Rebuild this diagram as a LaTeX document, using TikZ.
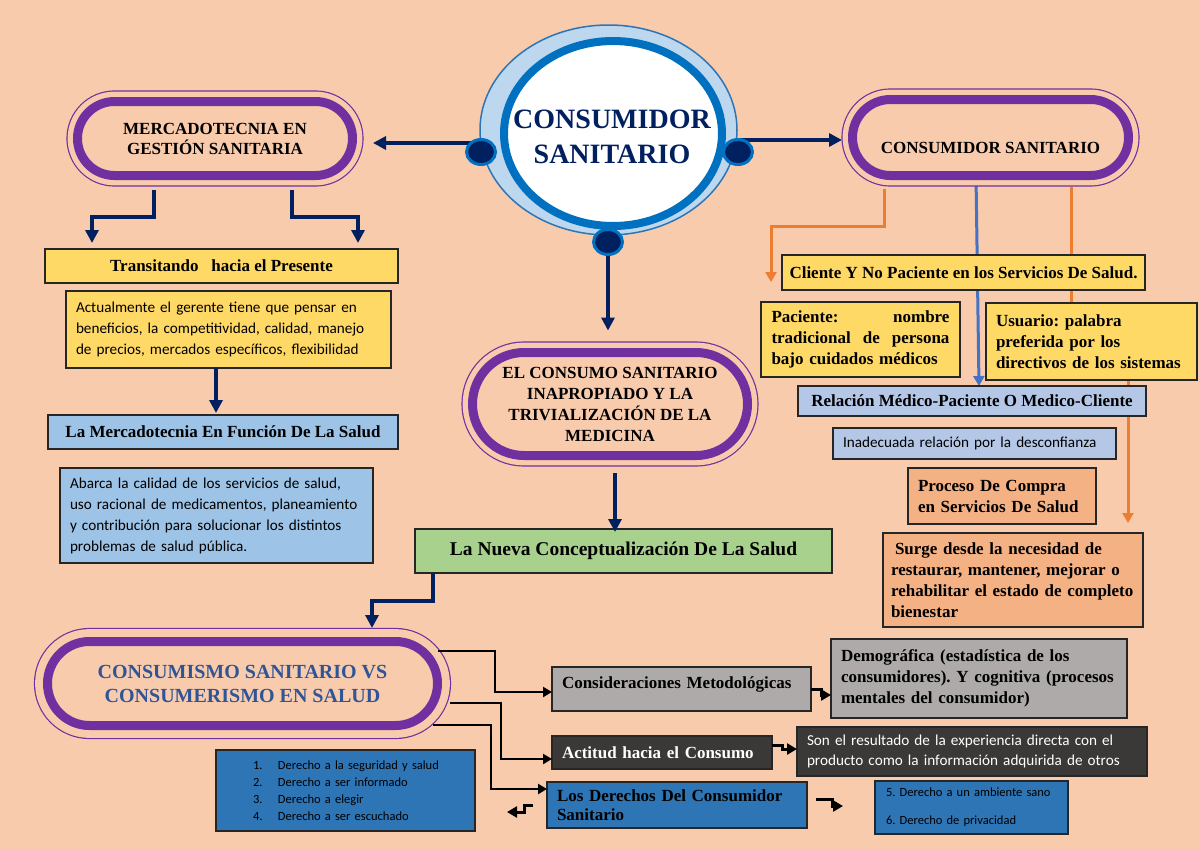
\documentclass[tikz,border=0pt]{standalone}
\usepackage{fontspec}
\setmainfont{Liberation Serif}
\newfontfamily\calib{Carlito}
\usepackage{tikz}
\usetikzlibrary{positioning, arrows.meta, shapes.geometric, shapes.misc}
\definecolor{bgpeach}{HTML}{F8CBAD}
\definecolor{boxyellow}{HTML}{FFD966}
\definecolor{boxsky}{HTML}{9DC3E6}
\definecolor{boxpale}{HTML}{B4C7E7}
\definecolor{boxgreen}{HTML}{A9D18E}
\definecolor{boxorange}{HTML}{F4B183}
\definecolor{boxgray}{HTML}{AEAAAA}
\definecolor{boxdark}{HTML}{3B3838}
\definecolor{boxblue}{HTML}{2E75B6}
\definecolor{stpurple}{HTML}{7030A0}
\definecolor{navy}{HTML}{002060}
\definecolor{ringblue}{HTML}{2E75B6}
\definecolor{ringlight}{HTML}{BDD7EE}
\definecolor{innerblue}{HTML}{0070C0}
\definecolor{lineorange}{HTML}{ED7D31}
\definecolor{lineblue}{HTML}{4472C4}
\definecolor{textblue}{HTML}{2F5597}
\pgfdeclarelayer{paper}
\pgfdeclarelayer{links}
\pgfsetlayers{paper,links,main}
\tikzset{>={Triangle[length=13pt,width=13pt]}, node distance=2cm}

\begin{document}
\frenchspacing
\begin{tikzpicture}[x=1pt, y=-1pt,
  box/.style={rectangle, draw=black!85, line width=1.6pt, inner sep=0pt, outer sep=0pt, font=\bfseries\fontsize{17}{21}\selectfont, align=center},
  box_left/.style={box, align=left, inner xsep=10pt},
  note/.style={box, align=left, inner xsep=10pt, font=\calib\fontsize{15.2}{21}\selectfont},
  stadium/.style={rounded rectangle, inner sep=0pt, outer sep=0pt, draw=stpurple, line width=9pt, fill=bgpeach,
    preaction={draw=stpurple, line width=2*#1pt+1.2pt}, preaction={draw=bgpeach, line width=2*#1pt-1.2pt},
    font=\bfseries\fontsize{17}{20}\selectfont, align=center},
  stadium/.default=10.5,
  ring_outer/.style={ellipse, draw=ringblue, line width=1.5pt, fill=ringlight, inner sep=0pt, minimum width=257pt, minimum height=210pt},
  ring_inner/.style={ellipse, draw=innerblue, line width=8pt, fill=white, inner sep=0pt, minimum width=218pt, minimum height=185pt},
  title/.style={align=center, inner sep=0pt, text=navy, font=\bfseries\fontsize{28}{35}\selectfont},
  dot/.style={ellipse, draw=innerblue, line width=3pt, fill=navy, inner sep=0pt, minimum width=29pt, minimum height=25pt},
  navyarr/.style={draw=navy, line width=3.5pt, ->},
  orangearr/.style={draw=lineorange, line width=3pt, -{Triangle[length=10pt,width=11pt]}},
  bluearr/.style={draw=lineblue, line width=3pt, -{Triangle[length=10pt,width=11pt]}},
  blkarr/.style={draw=black, line width=2.8pt, -{Triangle[length=9pt,width=10pt]}},
  step_arr/.style={draw=black, line width=3pt, -{Triangle[length=10pt,width=11pt]}}]

  \begin{pgfonlayer}{paper}
    \fill[bgpeach] (0,0) rectangle (1200,849);
  \end{pgfonlayer}
  \useasboundingbox (0,0) rectangle (1200,849);

  % centre
  \node[ring_outer] (ring) at (608.5,130) {};
  \node[ring_inner] (cons) at (613,133.5) {};
  \node[title] (title) at (612,137) {CONSUMIDOR\\SANITARIO};
  \node[dot] (dotL) at (481,152) {};
  \node[dot] (dotR) at (738,152) {};
  \node[dot] (dotB) at (608,242) {};

  % left branch
  \node[stadium, minimum width=275pt, minimum height=74pt] (merc) at (215,138.5) {MERCADOTECNIA EN\\GESTIÓN SANITARIA};
  \node[box, fill=boxyellow, minimum width=353pt, minimum height=34pt] (trans) at (221.5,266) {Transitando\ \ \ hacia el Presente};
  \node[note, fill=boxyellow, text width=305pt, minimum height=77pt] (actual) at (228.5,329.5) {Actualmente el gerente tiene que pensar en\\beneficios, la competitividad, calidad, manejo\\de precios, mercados específicos, flexibilidad};
  \node[box, fill=boxsky, minimum width=350pt, minimum height=34pt] (merf) at (223,432) {La Mercadotecnia En Función De La Salud};
  \node[note, fill=boxsky, text width=293pt, minimum height=95pt] (abarca) at (216.5,515.5) {Abarca la calidad de los servicios de salud,\\uso racional de medicamentos, planeamiento\\y contribución para solucionar los distintos\\problemas de salud pública.};

  % middle branch
  \node[stadium, minimum width=275pt, minimum height=103pt, font=\bfseries\fontsize{17}{21}\selectfont] (ecs) at (610,404) {EL CONSUMO SANITARIO\\INAPROPIADO Y LA\\TRIVIALIZACIÓN DE LA\\MEDICINA};
  \node[box, fill=boxgreen, minimum width=417pt, minimum height=44pt, font=\bfseries\fontsize{19.5}{23}\selectfont] (nueva) at (623.5,551) {La Nueva Conceptualización De La Salud};
  \node[stadium=13, minimum width=390pt, minimum height=84pt, text=textblue, font=\bfseries\fontsize{20}{24}\selectfont] (cvs) at (242.5,683.5) {CONSUMISMO SANITARIO VS\\CONSUMERISMO EN SALUD};

  % right branch
  \node[stadium, minimum width=276pt, minimum height=76pt] (cs) at (990.5,137.5) {\raisebox{-10pt}[\height][\depth]{CONSUMIDOR SANITARIO}};
  \node[box, fill=boxyellow, minimum width=363pt, minimum height=35pt] (cliente) at (963.5,272.5) {Cliente Y No Paciente en los Servicios De Salud.};
  \node[box_left, fill=boxyellow, text width=178pt, inner xsep=10.5pt, minimum height=75pt] (pac) at (860.5,339.5) {Paciente:\hfill nombre\\tradicional\hfill de\hfill persona\\bajo cuidados médicos};
  \node[box_left, fill=boxyellow, text width=191pt, minimum height=77pt] (usu) at (1091.5,341.5) {Usuario: palabra\\preferida por los\\directivos de los sistemas};
  \node[box, fill=boxpale, minimum width=348pt, minimum height=30pt] (rel) at (972,401) {Relación Médico-Paciente O Medico-Cliente};
  \node[note, fill=boxpale, text width=263pt, minimum height=31pt] (inad) at (974.5,443.5) {Inadecuada relación por la desconfianza};
  \node[box_left, fill=boxorange, text width=168pt, minimum height=56pt] (proc) at (1002,496) {Proceso De Compra\\en Servicios De Salud};
  \node[box_left, fill=boxorange, text width=244pt, inner xsep=8pt, minimum height=94pt] (surge) at (1013,580) {\hspace{4pt}Surge desde la necesidad de\\restaurar, mantener, mejorar o\\rehabilitar el estado de completo\\bienestar};

  % bottom row
  \node[box_left, fill=boxgray, text width=239pt, minimum height=44pt] (cmet) at (681.5,689) {\raisebox{5pt}[\height][\depth]{Consideraciones Metodológicas}};
  \node[box_left, fill=boxgray, text width=276pt, minimum height=79pt] (demo) at (979,678.5) {Demográfica (estadística de los\\consumidores). Y cognitiva (procesos\\mentales del consumidor)};
  \node[box_left, fill=boxdark, text=white, text width=200pt, minimum height=33pt] (actit) at (662,752.5) {Actitud hacia el Consumo};
  \node[note, fill=boxdark, text=white, text width=330pt, minimum height=49pt, font=\calib\fontsize{15.2}{20}\selectfont] (sonel) at (972,751.5) {Son el resultado de la experiencia directa con el\\producto como la información adquirida de otros};
  \node[box_left, fill=boxblue, text width=240pt, minimum height=46pt, font=\bfseries\fontsize{17}{19}\selectfont] (dere) at (677,805) {Los Derechos Del Consumidor\\Sanitario};
  \node[note, fill=boxblue, text width=171pt, inner xsep=11pt, minimum height=53pt, font=\calib\fontsize{12.5}{14}\selectfont] (dere2) at (971.5,807.5) {5. Derecho a un ambiente sano\\[14pt]6. Derecho de privacidad};
  \node[note, fill=boxblue, text width=185pt, inner xsep=37pt, minimum height=81pt, font=\calib\fontsize{12.5}{17}\selectfont] (lst) at (345.5,790.5) {\mbox{\makebox[25pt][l]{1.}Derecho a la seguridad y salud}\\\mbox{\makebox[25pt][l]{2.}Derecho a ser informado}\\\mbox{\makebox[25pt][l]{3.}Derecho a elegir}\\\mbox{\makebox[25pt][l]{4.}Derecho a ser escuchado}};
  \coordinate (lst_end) at (507,812);
  \coordinate (dere_end) at (843,806);

  \begin{pgfonlayer}{links}
    \draw[navyarr, shorten >=20.5pt] ([yshift=9pt]dotL.center) -- ([yshift=9pt]dotL.center -| merc.east);
    \draw[navyarr, shorten >=10.5pt] ([yshift=12pt]dotR.center) -- ([yshift=12pt]dotR.center -| cs.west);
    \draw[navyarr, shorten >=22pt] (dotB.center) -- (dotB.center |- ecs.north);
    \draw[orangearr, shorten <=13pt] ([xshift=-106.5pt]cs.south) -- ++(0,51) -| ([xshift=-11pt,yshift=-9.5pt]cliente.west);
    \draw[bluearr, shorten <=10pt] ([xshift=-14.5pt]cs.south) -- ([xshift=7pt]rel.north);
    \draw[orangearr, shorten <=11.5pt] ([xshift=80.5pt]cs.south) -- ++(0,165) -| ([xshift=115pt,yshift=10pt]surge.north);
  \end{pgfonlayer}

  \draw[navyarr, shorten <=14.5pt] ([xshift=-61pt]merc.south) -- ++(0,41.5) -| ([xshift=-129.5pt,yshift=6pt]trans.north);
  \draw[navyarr, shorten <=14.5pt] ([xshift=77pt]merc.south) -- ++(0,41.5) -| ([xshift=136.5pt,yshift=6pt]trans.north);
  \draw[navyarr, shorten >=2pt] ([xshift=-12.5pt]actual.south) -- ([xshift=-12.5pt]actual.south |- merf.north);
  \draw[navyarr, shorten <=17.5pt, shorten >=-3pt] ([xshift=5pt]ecs.south) -- ([xshift=5pt]ecs.south |- nueva.north);
  \draw[navyarr, shorten >=13.5pt] ([xshift=-190.5pt]nueva.south) -- ++(0,28) -| ([xshift=129.5pt]cvs.north);

  \draw[blkarr] ([xshift=195.5pt,yshift=32.5pt]cvs.center) -- ++(57,0) |- ([yshift=-3pt]cmet.west);
  \draw[blkarr] ([xshift=207.5pt,yshift=-19.5pt]cvs.center) -- ++(51,0) |- ([yshift=-6.5pt]actit.west);
  \draw[blkarr] ([xshift=190.5pt,yshift=-41.5pt]cvs.center) -- ++(58,0) |- ([yshift=16pt]dere.west);

  \draw[step_arr] (cmet.east) -- ++(10,0) |- ([yshift=-16.5pt]demo.west);
  \draw[step_arr] ([yshift=7.5pt]actit.east) -- ++(10,0) |- ([yshift=2.5pt]sonel.west);
  \draw[step_arr] ([xshift=-14pt]dere.west) -- ++(-9,0) |- (lst_end);
  \draw[step_arr] ([xshift=9pt,yshift=6pt]dere.east) -- ++(16,0) |- (dere_end);
\end{tikzpicture}
\end{document}
